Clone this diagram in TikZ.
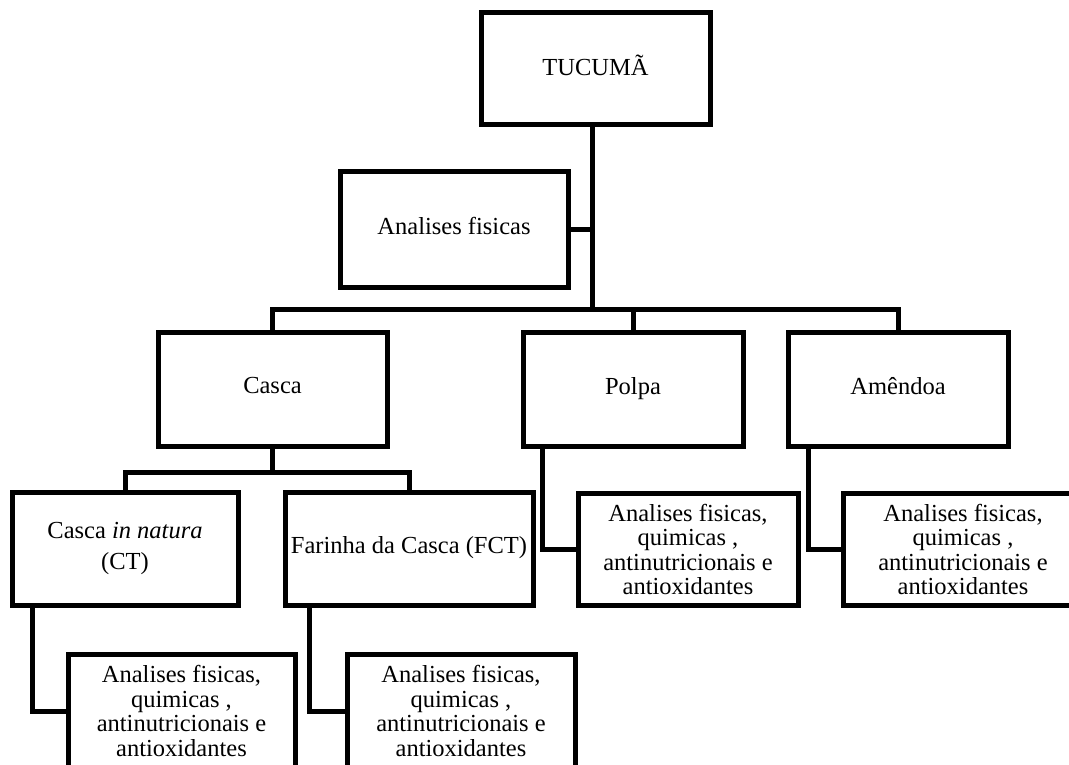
\documentclass[tikz,border=0pt]{standalone}
\usepackage{fontspec}
\setmainfont{Liberation Serif}
\tikzset{
  caixa/.style={draw, line width=5pt, align=center, inner sep=0pt, fill=white},
  liga/.style={line width=5pt}
}
\begin{document}
\begin{tikzpicture}[x=1pt, y=-1pt, font=\fontsize{24.5}{24.5}\selectfont] % fluxograma
        \useasboundingbox (0,0) rectangle (1069,765);
        \node[caixa, minimum width=229, minimum height=112] (tucuma) at (595.5,69) {\strut TUCUMÃ};
        \node[caixa, minimum width=228, minimum height=115] (fisicas) at (454,229.5) {\strut Analises fisicas};
        \node[caixa, minimum width=229, minimum height=114] (casca) at (272.5,389) {\strut Casca};
        \node[caixa, minimum width=220, minimum height=114] (polpa) at (633,389.5) {\strut Polpa};
        \node[caixa, minimum width=220, minimum height=114] (amendoa) at (898,389.5) {\strut Amêndoa};
        \node[caixa, minimum width=226, minimum height=113] (ct) at (125,548.5) {Casca \textit{in natura}\\[7pt](CT)};
        \node[caixa, minimum width=248, minimum height=113] (fct) at (409,548.5) {\strut Farinha da Casca (FCT)};
        \node[caixa, minimum width=227, minimum height=113] (anct) at (181.5,711) {Analises fisicas,\\quimicas ,\\antinutricionais e\\antioxidantes};
        \node[caixa, minimum width=228, minimum height=113] (anfct) at (461,711) {Analises fisicas,\\quimicas ,\\antinutricionais e\\antioxidantes};
        \node[caixa, minimum width=220, minimum height=112] (anpolpa) at (688,549.5) {Analises fisicas,\\quimicas ,\\antinutricionais e\\antioxidantes};
        \node[caixa, minimum width=240, minimum height=112] (anamendoa) at (963,549.5) {Analises fisicas,\\quimicas ,\\antinutricionais e\\antioxidantes};
        \coordinate (hub) at (592,309);
        \coordinate (cj) at ([yshift=-24pt]casca.south);
        \draw[liga] (tucuma.south -| hub) -- (hub);
        \draw[liga] (fisicas.east) -- (fisicas.east -| hub);
        \draw[liga] (casca.north) |- (hub) -| (amendoa.north);
        \draw[liga] (hub) -| (polpa.north);
        \draw[liga] (casca.south) -- (cj);
        \draw[liga] (ct.north) |- (cj) -| (fct.north);
        \draw[liga] ([xshift=23pt]ct.south west) |- (anct.west);
        \draw[liga] ([xshift=27pt]fct.south west) |- (anfct.west);
        \draw[liga] ([xshift=22pt]polpa.south west) |- (anpolpa.west);
        \draw[liga] ([xshift=23pt]amendoa.south west) |- (anamendoa.west);
\end{tikzpicture}
\end{document}
